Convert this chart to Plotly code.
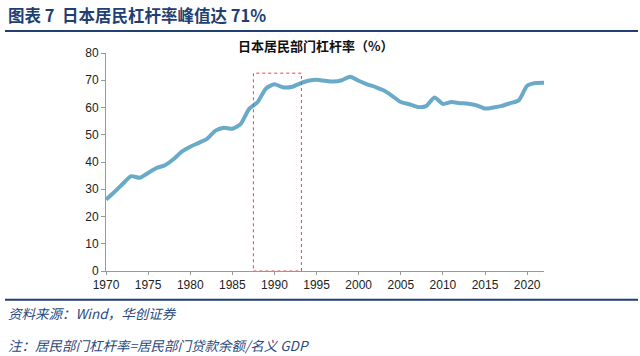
import plotly.graph_objects as go

years = list(range(1970, 2023))
leverage = [26.2, 29.0, 32.0, 34.8, 34.2, 36.0, 37.8, 38.8, 41.0, 43.8,
            45.6, 47.0, 48.5, 51.5, 52.6, 52.2, 54.0, 59.5, 62.0, 67.0,
            68.5, 67.4, 67.5, 68.8, 69.8, 70.2, 69.8, 69.5, 70.0, 71.3,
            69.8, 68.5, 67.5, 66.2, 64.2, 62.0, 61.2, 60.2, 60.5, 63.7,
            61.3, 62.0, 61.6, 61.4, 60.8, 59.6, 60.0, 60.6, 61.6, 62.6,
            68.0, 69.0, 69.1]
x_ticks = list(range(1970, 2021, 5))
y_ticks = list(range(0, 81, 10))
highlight = (1987.5, 1993.2, 72.6)

W, H = 640, 356
L, R, T, B = 106, 544, 52.9, 270.7

def px(x):
    return (x - L) / (R - L)

def py(y):
    return (B - y) / (B - T)

fig = go.Figure()
fig.add_trace(go.Scatter(
    x=years, y=leverage, mode="lines",
    line=dict(color="#6aaac9", width=4, shape="spline", smoothing=0.6),
    hoverinfo="x+y", showlegend=False))

fig.add_shape(type="rect", xref="x", yref="y",
              x0=highlight[0], x1=highlight[1], y0=0, y1=highlight[2],
              line=dict(color="#e8424a", width=1, dash="dot"))

navy = "#1f3f73"
fig.add_shape(type="line", xref="paper", yref="paper",
              x0=px(5), x1=px(638), y0=py(31), y1=py(31),
              line=dict(color=navy, width=2))
fig.add_shape(type="line", xref="paper", yref="paper",
              x0=px(5), x1=px(638), y0=py(299.5), y1=py(299.5),
              line=dict(color=navy, width=2))

cjk = "Noto Sans CJK SC"
fig.add_annotation(text="<b>图表 7  日本居民杠杆率峰值达 71%</b>", xref="paper", yref="paper",
                   x=px(6), y=py(15), xanchor="left", yanchor="middle", showarrow=False,
                   font=dict(family=cjk, size=16.5, color=navy))
fig.add_annotation(text="<b>日本居民部门杠杆率（%）</b>", xref="paper", yref="paper",
                   x=px(316), y=py(45), xanchor="center", yanchor="middle", showarrow=False,
                   font=dict(family=cjk, size=13, color="#111111"))
fig.add_annotation(text="<i>资料来源：Wind，华创证券</i>", xref="paper", yref="paper",
                   x=px(6), y=py(313), xanchor="left", yanchor="middle", showarrow=False,
                   font=dict(family=cjk, size=13.5, color="#2a4a80"))
fig.add_annotation(text="<i>注：居民部门杠杆率=居民部门贷款余额/名义 GDP</i>", xref="paper", yref="paper",
                   x=px(6), y=py(345), xanchor="left", yanchor="middle", showarrow=False,
                   font=dict(family=cjk, size=13.5, color="#2a4a80"))

fig.update_layout(
    width=W, height=H,
    margin=dict(l=L, r=W - R, t=T, b=H - B, pad=0),
    paper_bgcolor="white", plot_bgcolor="white",
    font=dict(family="Liberation Sans, Arial", size=12, color="#222222"),
    xaxis=dict(range=[1970, 2022], tickvals=x_ticks, showgrid=False, zeroline=False,
               showline=True, linecolor="#999999", linewidth=1,
               ticks="outside", ticklen=3, tickcolor="#999999",
               tickfont=dict(size=12, color="#222222")),
    yaxis=dict(range=[0, 80], tickvals=y_ticks, showgrid=False, zeroline=False,
               showline=True, linecolor="#999999", linewidth=1,
               ticks="outside", ticklen=4, tickcolor="#999999",
               tickfont=dict(size=12, color="#222222")),
)

fig.write_html("out.html", config={"displayModeBar": False},
               post_script="document.body.style.margin='0';document.body.style.overflow='hidden';")
